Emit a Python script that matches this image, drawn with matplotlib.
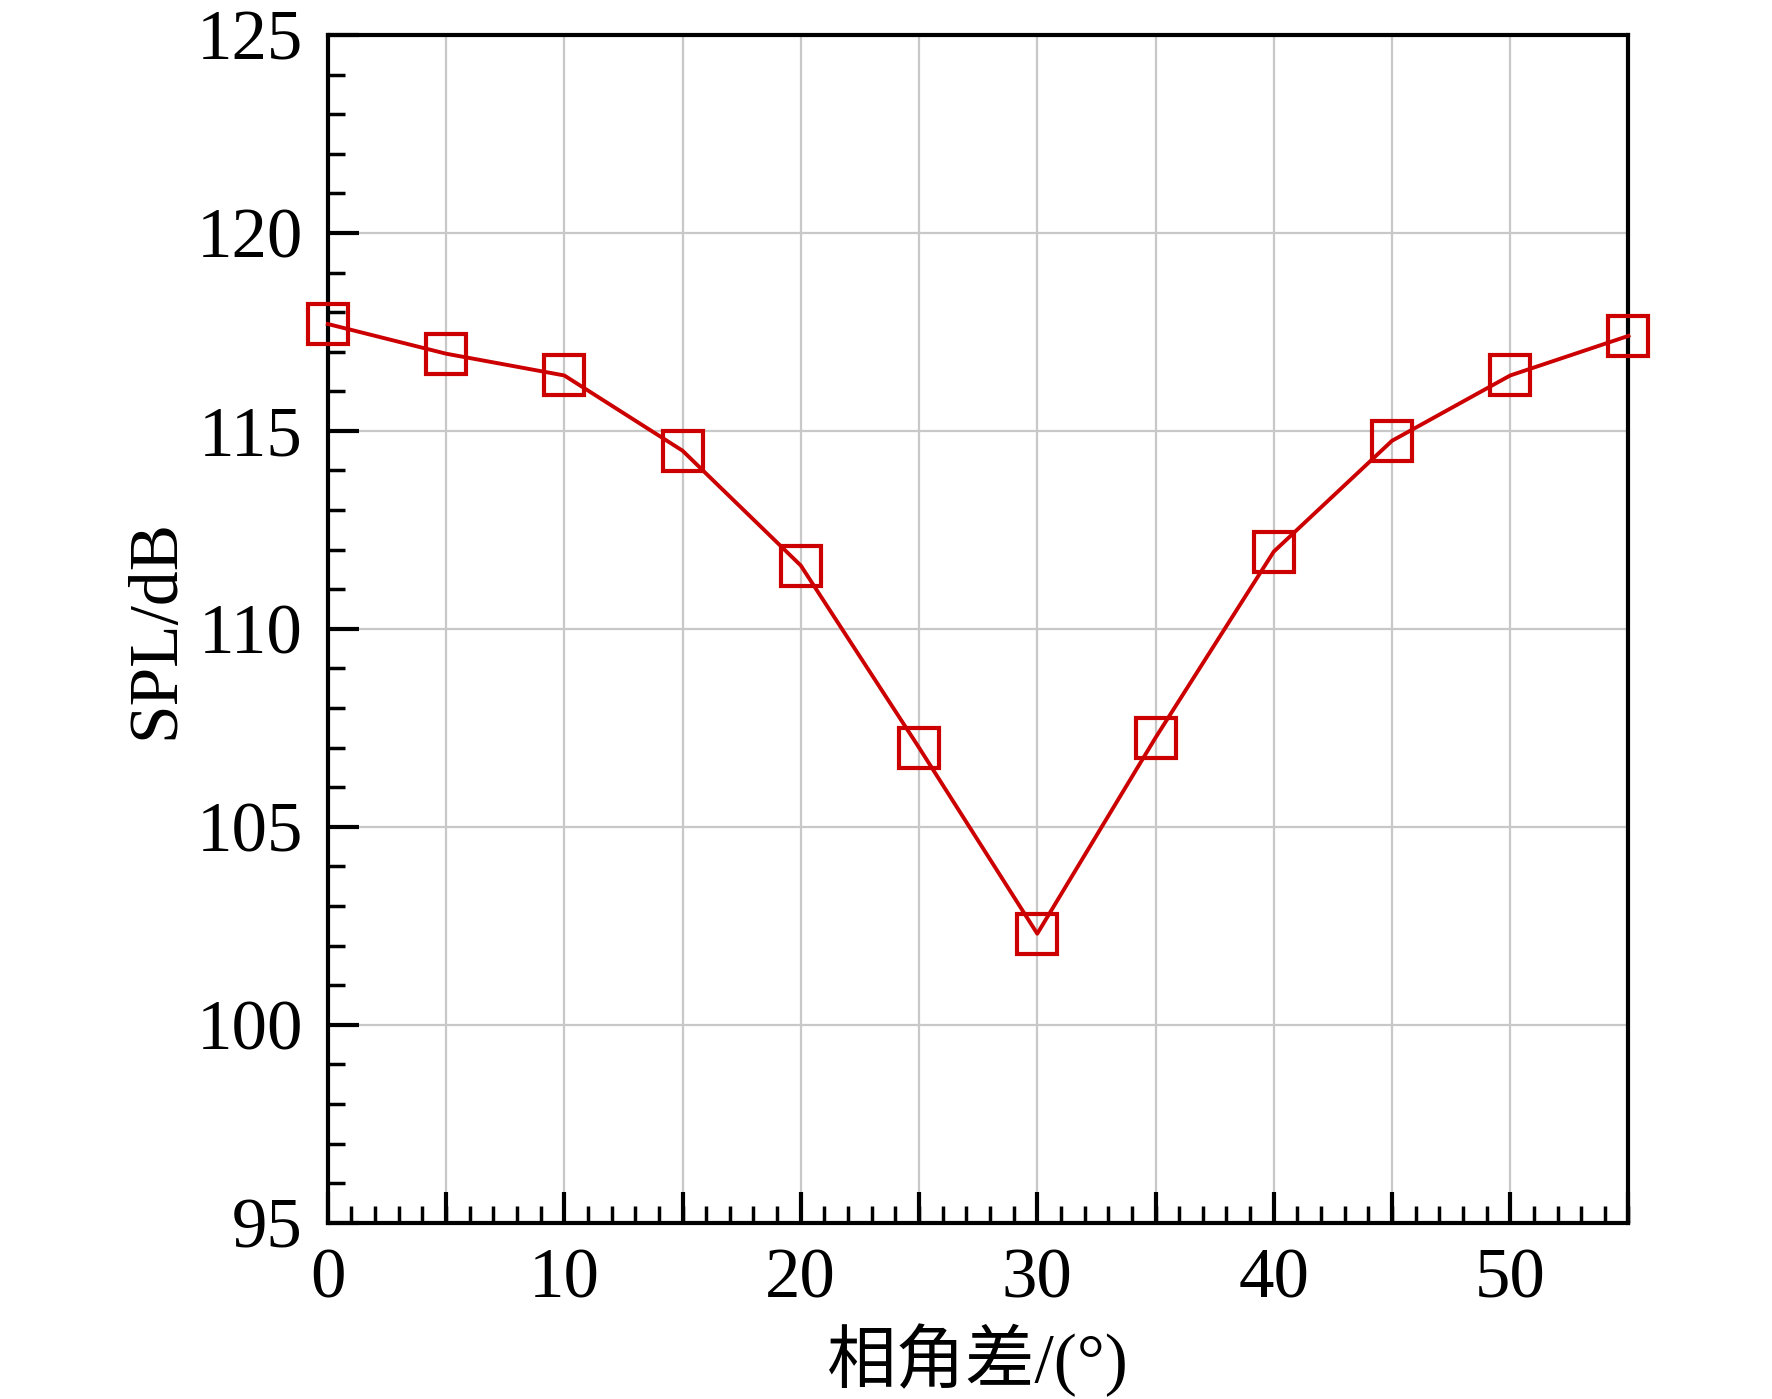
import matplotlib

matplotlib.use("Agg")
import matplotlib.pyplot as plt  # noqa: E402
from matplotlib.ticker import MultipleLocator  # noqa: E402

# phase difference (deg) vs SPL (dB)
phase_deg = [0, 5, 10, 15, 20, 25, 30, 35, 40, 45, 50, 55]
spl_db = [117.7, 116.95, 116.4, 114.5, 111.6, 107.0,
          102.3, 107.25, 111.95, 114.75, 116.4, 117.4]

x_label = "相角差/(°)"
y_label = "SPL/dB"

plt.rcParams["font.family"] = ["Liberation Serif", "Noto Sans CJK SC"]

fig = plt.figure(figsize=(17.72, 13.99), dpi=100)
ax = fig.add_axes([0.185, 0.126, 0.734, 0.849])

ax.plot(phase_deg, spl_db, color="#cc0000", linewidth=2.8, marker="s",
        markersize=29, markerfacecolor="none", markeredgewidth=3.0,
        clip_on=False, zorder=3)

ax.set_xlim(0, 55)
ax.set_ylim(95, 125)
ax.xaxis.set_major_locator(MultipleLocator(10))
ax.xaxis.set_minor_locator(MultipleLocator(1))
ax.yaxis.set_major_locator(MultipleLocator(5))
ax.yaxis.set_minor_locator(MultipleLocator(1))

# grid at every 5 on both axes
for xv in range(5, 55, 5):
    ax.axvline(xv, color="#c8c8c8", linewidth=1.6, zorder=0)
for yv in range(100, 125, 5):
    ax.axhline(yv, color="#c8c8c8", linewidth=1.6, zorder=0)

ax.tick_params(axis="both", which="major", direction="in", length=22,
               width=3, labelsize=51, top=False, right=False)
ax.tick_params(axis="x", which="major", pad=18)
ax.tick_params(axis="y", which="major", pad=18)
ax.tick_params(axis="both", which="minor", direction="in", length=12,
               width=2.5, top=False, right=False)
# major-length ticks at 5, 15, ... on x
for xv in range(5, 56, 10):
    ax.plot([xv], [95], marker=2, markersize=22,
            markeredgewidth=3, color="black", clip_on=False, zorder=4)

for sp in ax.spines.values():
    sp.set_linewidth(3)

ax.set_xlabel(x_label, fontsize=50, labelpad=8)
ax.set_ylabel(y_label, fontsize=50, labelpad=6)

fig.savefig("out.png", dpi=100)
